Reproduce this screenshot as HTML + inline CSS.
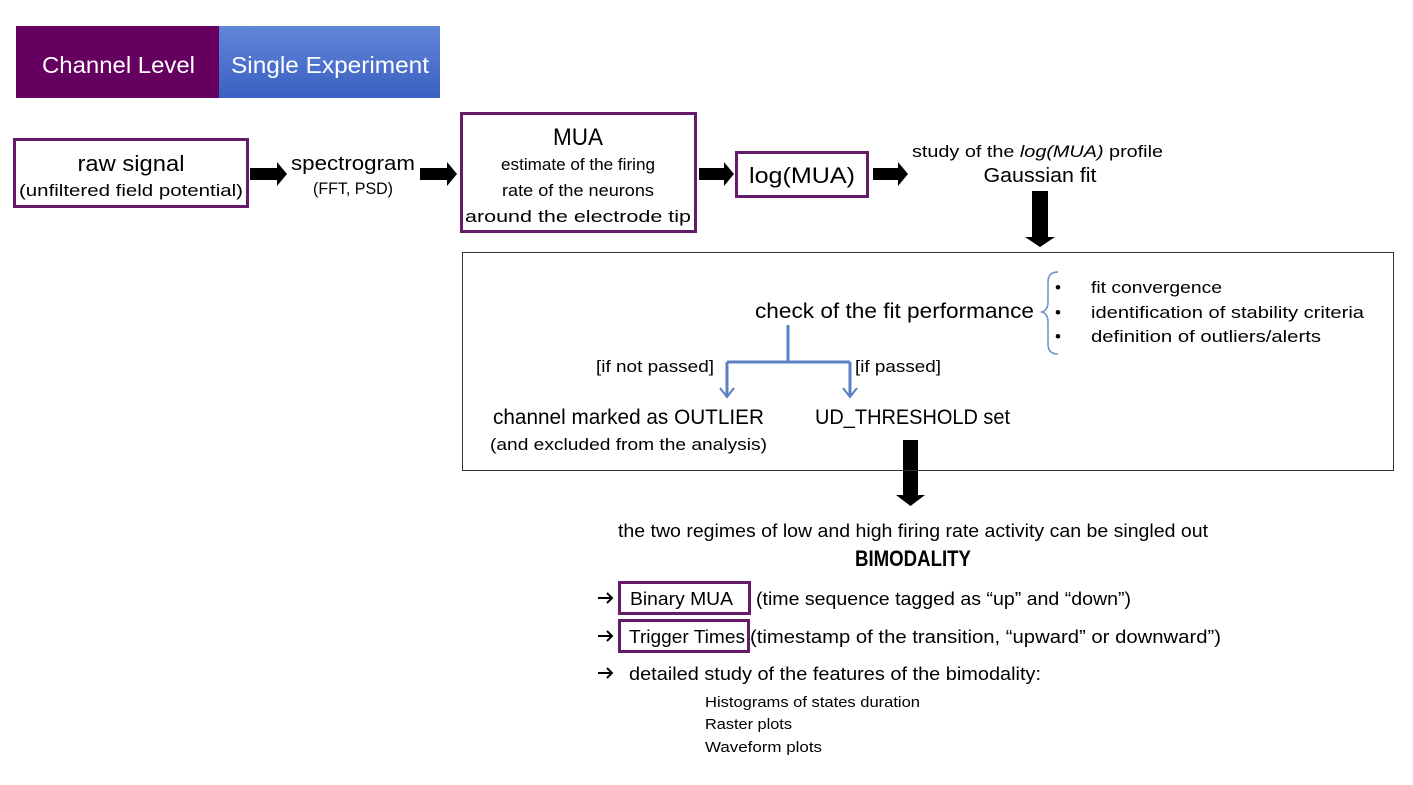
<!DOCTYPE html>
<html><head><meta charset="utf-8"><style>
html,body{margin:0;padding:0;background:#fff;}
svg{display:block;font-family:"Liberation Sans",sans-serif;}
</style></head><body>
<svg width="1413" height="785" viewBox="0 0 1413 785" xmlns="http://www.w3.org/2000/svg">
<defs>
<linearGradient id="bg" x1="0" y1="0" x2="0" y2="1"><stop offset="0" stop-color="#6286d8"/><stop offset="1" stop-color="#3a60c2"/></linearGradient>
</defs>
<rect width="1413" height="785" fill="#fff"/>
<rect x="16" y="26" width="204" height="72" fill="#650060"/>
<rect x="219" y="26" width="221" height="72" fill="url(#bg)"/>
<text x="42" y="73" font-size="23" fill="#fff" textLength="153" lengthAdjust="spacingAndGlyphs">Channel Level</text>
<text x="231" y="73" font-size="23" fill="#fff" textLength="198" lengthAdjust="spacingAndGlyphs">Single Experiment</text>

<g fill="none" stroke="#651a6a" stroke-width="3">
<rect x="14.5" y="139.5" width="233" height="67"/>
<rect x="461.5" y="113.5" width="234" height="118"/>
<rect x="736.5" y="152.5" width="131" height="44"/>
<rect x="619.5" y="582.5" width="130" height="31"/>
<rect x="619.5" y="620.5" width="129" height="31"/>
</g>
<g font-size="17" fill="#000">
<text x="131" y="171" font-size="22" text-anchor="middle" textLength="107" lengthAdjust="spacingAndGlyphs">raw signal</text>
<text x="131" y="196" text-anchor="middle" textLength="224" lengthAdjust="spacingAndGlyphs">(unfiltered field potential)</text>
<text x="353" y="170" font-size="20" text-anchor="middle" textLength="124" lengthAdjust="spacingAndGlyphs">spectrogram</text>
<text x="353" y="194" text-anchor="middle" textLength="80" lengthAdjust="spacingAndGlyphs">(FFT, PSD)</text>
<text x="578" y="145" font-size="24" text-anchor="middle" textLength="50" lengthAdjust="spacingAndGlyphs">MUA</text>
<text x="578" y="170" text-anchor="middle" textLength="154" lengthAdjust="spacingAndGlyphs">estimate of the firing</text>
<text x="578" y="196" text-anchor="middle" textLength="152" lengthAdjust="spacingAndGlyphs">rate of the neurons</text>
<text x="578" y="222" text-anchor="middle" textLength="226" lengthAdjust="spacingAndGlyphs">around the electrode tip</text>
<text x="802" y="183" font-size="22" text-anchor="middle" textLength="106" lengthAdjust="spacingAndGlyphs">log(MUA)</text>
<text x="912" y="157" textLength="251" lengthAdjust="spacingAndGlyphs">study of the <tspan font-style="italic">log(MUA)</tspan> profile</text>
<text x="1040" y="182" font-size="20" text-anchor="middle" textLength="113" lengthAdjust="spacingAndGlyphs">Gaussian fit</text>
</g>
<g fill="#000">
<path d="M250 168h27v-6l10 12-10 12v-6h-27z"/>
<path d="M420 168h27v-6l10 12-10 12v-6h-27z"/>
<path d="M699 168h25v-6l10 12-10 12v-6h-25z"/>
<path d="M873 168h25v-6l10 12-10 12v-6h-25z"/>
<path d="M1032 191h16v46h7l-15 10-15-10h7z"/>
<path d="M903 440h15v55h7l-14.5 11-14.5-11h7z"/>
</g>
<rect x="462.5" y="252.5" width="931" height="218" fill="none" stroke="#333" stroke-width="1"/>
<text x="755" y="318" font-size="21" textLength="279" lengthAdjust="spacingAndGlyphs">check of the fit performance</text>
<path d="M1058 272q-10 0-10 10v20q0 8-6 10q6 2 6 10v22q0 10 10 10" fill="none" stroke="#6b8dcc" stroke-width="1.5"/>
<g font-size="17">
<text x="1055" y="293">•</text><text x="1055" y="318">•</text><text x="1055" y="342">•</text>
<text x="1091" y="293" textLength="131" lengthAdjust="spacingAndGlyphs">fit convergence</text>
<text x="1091" y="318" textLength="273" lengthAdjust="spacingAndGlyphs">identification of stability criteria</text>
<text x="1091" y="342" textLength="230" lengthAdjust="spacingAndGlyphs">definition of outliers/alerts</text>
<text x="596" y="372" textLength="118" lengthAdjust="spacingAndGlyphs">[if not passed]</text>
<text x="855" y="372" textLength="86" lengthAdjust="spacingAndGlyphs">[if passed]</text>
<text x="490" y="450" textLength="277" lengthAdjust="spacingAndGlyphs">(and excluded from the analysis)</text>
</g>
<g fill="none" stroke="#5b80c4" stroke-width="3">
<path d="M788 325v37M727 362h123M727 362v34M850 362v34"/>
<path d="M720 388l7 9 7-9M843 388l7 9 7-9" stroke-width="2"/>
</g>
<text x="493" y="424" font-size="21" textLength="271" lengthAdjust="spacingAndGlyphs">channel marked as OUTLIER</text>
<text x="815" y="424" font-size="21" textLength="195" lengthAdjust="spacingAndGlyphs">UD_THRESHOLD set</text>
<text x="618" y="537" font-size="18" textLength="590" lengthAdjust="spacingAndGlyphs">the two regimes of low and high firing rate activity can be singled out</text>
<text x="913" y="566" font-size="22" font-weight="bold" text-anchor="middle" textLength="116" lengthAdjust="spacingAndGlyphs">BIMODALITY</text>
<g fill="none" stroke="#000" stroke-width="2">
<path d="M598 598h14M607 593l5 5-5 5M598 636h14M607 631l5 5-5 5M598 673h14M607 668l5 5-5 5"/>
</g>
<g font-size="18">
<text x="630" y="605" textLength="103" lengthAdjust="spacingAndGlyphs">Binary MUA</text>
<text x="756" y="605" textLength="375" lengthAdjust="spacingAndGlyphs">(time sequence tagged as “up” and “down”)</text>
<text x="629" y="643" textLength="116" lengthAdjust="spacingAndGlyphs">Trigger Times</text>
<text x="750" y="643" textLength="471" lengthAdjust="spacingAndGlyphs">(timestamp of the transition, “upward” or downward”)</text>
<text x="629" y="680" textLength="412" lengthAdjust="spacingAndGlyphs">detailed study of the features of the bimodality:</text>
</g>
<g font-size="15">
<text x="705" y="707" textLength="215" lengthAdjust="spacingAndGlyphs">Histograms of states duration</text>
<text x="705" y="729" textLength="87" lengthAdjust="spacingAndGlyphs">Raster plots</text>
<text x="705" y="752" textLength="117" lengthAdjust="spacingAndGlyphs">Waveform plots</text>
</g>
</svg>
</body></html>
